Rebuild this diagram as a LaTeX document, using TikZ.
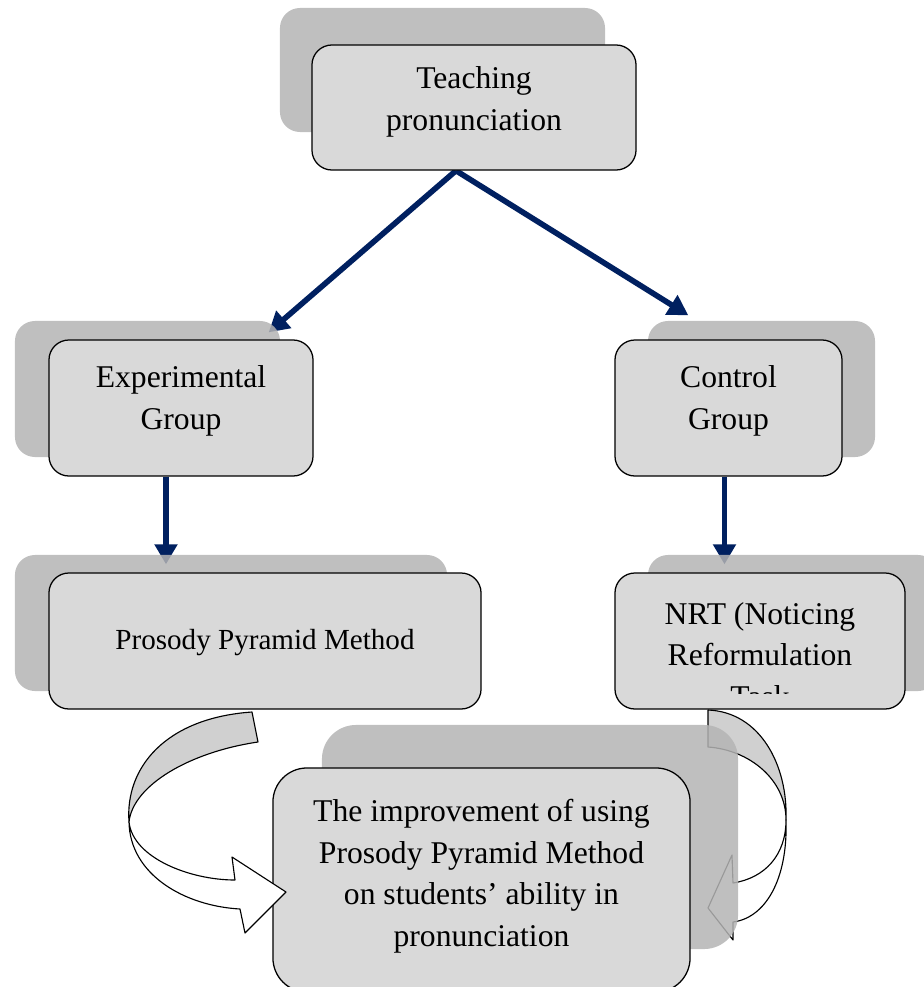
\documentclass[tikz,border=0pt]{standalone}
\usepackage{fontspec}
\setmainfont{Liberation Serif}
\usetikzlibrary{arrows.meta,backgrounds}
\definecolor{boxgray}{RGB}{217,217,217}
\definecolor{shadowgray}{RGB}{180,180,180}
\definecolor{bandgray}{RGB}{208,208,208}
\definecolor{navyline}{RGB}{0,32,96}
\tikzset{
  grpbox/.style={draw=black, line width=0.9pt, fill=boxgray, rounded corners=0.5cm, inner sep=0pt},
  boxshadow/.style={fill=shadowgray, fill opacity=0.85, rounded corners=0.5cm, inner sep=0pt},
  lbl/.style={font=\fontsize{22.5}{29.5}\selectfont, align=center, inner sep=0pt},
  flow/.style={draw=navyline, line width=4pt, -{Triangle[length=0.5cm,width=0.55cm]}},
  band/.style={draw=black, line width=0.8pt, line join=round}
}
\begin{document}
\begin{tikzpicture}[x=0.025cm,y=-0.025cm]
    \useasboundingbox (0,0) rectangle (924,987);

    % Các hộp
    \node[grpbox, minimum width=8.1cm, minimum height=3.125cm] (teach) at (474,107.5) {};
    \node[lbl] (teachtxt) at (474,102) {Teaching\\pronunciation};

    \node[grpbox, minimum width=6.6cm, minimum height=3.4cm] (exp) at (181,408) {};
    \node[lbl] (exptxt) at (181,401) {Experimental\\Group};

    \node[grpbox, minimum width=5.675cm, minimum height=3.4cm] (ctrl) at (728.5,408) {};
    \node[lbl] (ctrltxt) at (728.5,401) {Control\\Group};

    \node[grpbox, minimum width=10.8cm, minimum height=3.4cm] (ppm) at (265,641) {};
    \node[lbl, font=\fontsize{20.7}{29.5}\selectfont] (ppmtxt) at (265,643) {Prosody Pyramid Method};

    \node[grpbox, minimum width=7.25cm, minimum height=3.4cm] (nrt) at (760,641) {};
    \begin{scope}
      \clip (nrt.north west) rectangle ([yshift=0.4cm]nrt.south east);
      \node[lbl] (nrttxt) at (760,655) {NRT (Noticing\\Reformulation\\Task};
    \end{scope}

    \node[grpbox, rounded corners=0.85cm, minimum width=10.425cm, minimum height=5.6cm] (improve) at (481.5,880) {};
    \node[lbl] (improvetxt) at (481.5,876) {The improvement of using\\Prosody Pyramid Method\\on students’ ability in\\pronunciation};

    % Mũi tên cong bên trái
    \draw[band, fill=bandgray] (252,712) .. controls (165,718) and (125,768) .. (129,822)
      .. controls (133,785) and (190,752) .. (258,742) -- cycle;
    \draw[band, fill=white] (129,822) .. controls (133,858) and (190,880) .. (235,880)
      -- (232,857) -- (286,892) -- (245,933) -- (240,909)
      .. controls (185,906) and (130,875) .. (129,822) -- cycle;

    \begin{pgfonlayer}{background}
      % Mũi tên
      \draw[flow] ([xshift=-0.45cm]teach.south) -- ([shift={(-45,-7)}]exp.north east);
      \draw[flow] ([xshift=-0.45cm]teach.south) -- ([shift={(74,-24)}]ctrl.north west);
      \draw[flow, shorten >=0.2cm] ([xshift=-0.375cm]exp.south) -- ([xshift=-0.375cm]exp.south |- ppm.north);
      \draw[flow, shorten >=0.2cm] ([xshift=-0.1cm]ctrl.south) -- ([xshift=-0.1cm]ctrl.south |- nrt.north);

      % Mũi tên cong bên phải
      \draw[band, fill=bandgray] (708,710) .. controls (760,712) and (788,765) .. (786,820)
        .. controls (786,780) and (750,750) .. (708,747) -- cycle;
      \draw[band, fill=white] (786,820) .. controls (786,855) and (765,878) .. (733,883)
        -- (732,855) -- (708,908) -- (733,940) -- (733,922)
        .. controls (765,918) and (788,880) .. (786,820) -- cycle;

      % Bóng của các hộp
      \node[boxshadow, minimum width=8.125cm, minimum height=3.1cm] (teachsh) at (442.5,70) {};
      \node[boxshadow, minimum width=6.625cm, minimum height=3.4cm] (expsh) at (147.5,389) {};
      \node[boxshadow, minimum width=5.675cm, minimum height=3.4cm] (ctrlsh) at (761.5,389) {};
      \node[boxshadow, minimum width=10.8cm, minimum height=3.4cm] (ppmsh) at (231,623) {};
      \node[boxshadow, minimum width=7.25cm, minimum height=3.4cm] (nrtsh) at (793,623) {};
      \node[boxshadow, rounded corners=0.85cm, minimum width=10.4cm, minimum height=5.6cm] (improvesh) at (530,837) {};
    \end{pgfonlayer}
\end{tikzpicture}
\end{document}
